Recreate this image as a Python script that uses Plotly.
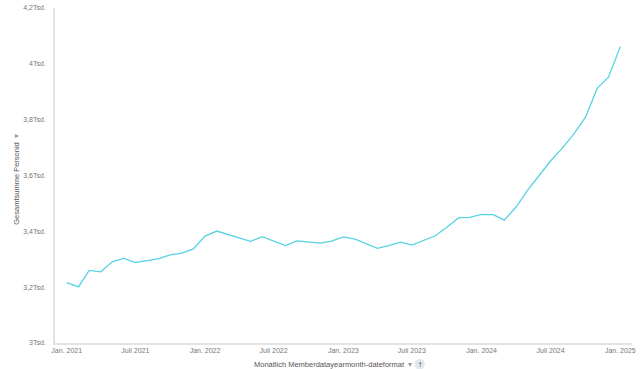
import plotly.graph_objects as go

months = [
    "2021-01-01", "2021-02-01", "2021-03-01", "2021-04-01", "2021-05-01", "2021-06-01",
    "2021-07-01", "2021-08-01", "2021-09-01", "2021-10-01", "2021-11-01", "2021-12-01",
    "2022-01-01", "2022-02-01", "2022-03-01", "2022-04-01", "2022-05-01", "2022-06-01",
    "2022-07-01", "2022-08-01", "2022-09-01", "2022-10-01", "2022-11-01", "2022-12-01",
    "2023-01-01", "2023-02-01", "2023-03-01", "2023-04-01", "2023-05-01", "2023-06-01",
    "2023-07-01", "2023-08-01", "2023-09-01", "2023-10-01", "2023-11-01", "2023-12-01",
    "2024-01-01", "2024-02-01", "2024-03-01", "2024-04-01", "2024-05-01", "2024-06-01",
    "2024-07-01", "2024-08-01", "2024-09-01", "2024-10-01", "2024-11-01", "2024-12-01",
    "2025-01-01",
]
personid_sum = [
    3216, 3201, 3260, 3255, 3291, 3303, 3288, 3296, 3302, 3316, 3322, 3337,
    3383, 3401, 3389, 3375, 3364, 3381, 3365, 3349, 3366, 3363, 3358, 3365,
    3380, 3372, 3357, 3339, 3349, 3361, 3351, 3368, 3384, 3415, 3448, 3450,
    3461, 3460, 3440, 3487, 3547, 3600, 3652, 3698, 3750, 3808, 3912, 3952,
    4061,
]

x_tick_vals = ["2021-01-01", "2021-07-01", "2022-01-01", "2022-07-01", "2023-01-01",
               "2023-07-01", "2024-01-01", "2024-07-01", "2025-01-01"]
x_tick_text = ["Jan. 2021", "Juli 2021", "Jan. 2022", "Juli 2022", "Jan. 2023",
               "Juli 2023", "Jan. 2024", "Juli 2024", "Jan. 2025"]
y_tick_vals = [3000, 3200, 3400, 3600, 3800, 4000, 4200]
y_tick_text = ["3Tsd.", "3,2Tsd.", "3,4Tsd.", "3,6Tsd.", "3,8Tsd.", "4Tsd.", "4,2Tsd."]

FONT = "Liberation Sans"

fig = go.Figure()
fig.add_trace(go.Scatter(
    x=months, y=personid_sum, mode="lines",
    line=dict(color="#55d3e3", width=1.3),
    hoverinfo="x+y",
))

fig.update_layout(
    width=640, height=369,
    margin=dict(l=55, r=8, t=8, b=26, autoexpand=False),
    paper_bgcolor="white", plot_bgcolor="white",
    showlegend=False,
    font=dict(family=FONT, size=7, color="#777777"),
    xaxis=dict(
        range=["2020-12-01", "2025-02-01"],
        tickvals=x_tick_vals, ticktext=x_tick_text,
        showgrid=False, zeroline=False, automargin=False,
        showline=True, linecolor="#e3e3e3", linewidth=1.5,
        ticks="", tickfont=dict(size=7, color="#777777"),
    ),
    yaxis=dict(
        range=[3000, 4200],
        tickvals=y_tick_vals, ticktext=y_tick_text,
        showgrid=False, zeroline=False, automargin=False,
        showline=True, linecolor="#e3e3e3", linewidth=1.5,
        ticks="", ticklabelstandoff=6, tickfont=dict(size=7, color="#777777"),
    ),
    annotations=[
        dict(text="Gesamtsumme Personid  <span style='color:#9a9a9a'>▾</span>",
             xref="paper", yref="paper",
             x=-0.066, y=0.49, textangle=-90, showarrow=False,
             font=dict(family=FONT, size=7.5, color="#555555"),
             xanchor="center", yanchor="middle"),
        dict(text="Monatlich Memberdatayearmonth-dateformat  <span style='color:#9a9a9a'>▾</span>",
             xref="paper", yref="paper",
             x=0.482, y=-0.063, showarrow=False,
             font=dict(family=FONT, size=7.5, color="#555555"),
             xanchor="center", yanchor="middle"),
        dict(text="<b>↑</b>", xref="paper", yref="paper",
             x=0.632, y=-0.063, showarrow=False,
             font=dict(family=FONT, size=8, color="#222222"),
             xanchor="center", yanchor="middle"),
    ],
    shapes=[
        dict(type="circle", xref="paper", yref="paper",
             x0=0.623, x1=0.641, y0=-0.079, y1=-0.047,
             fillcolor="#e3e7ef", line=dict(width=0), layer="below"),
    ],
)

fig.write_html(
    "out.html",
    config={"displayModeBar": False},
    post_script="document.body.style.margin='0';document.body.style.overflow='hidden';",
)
